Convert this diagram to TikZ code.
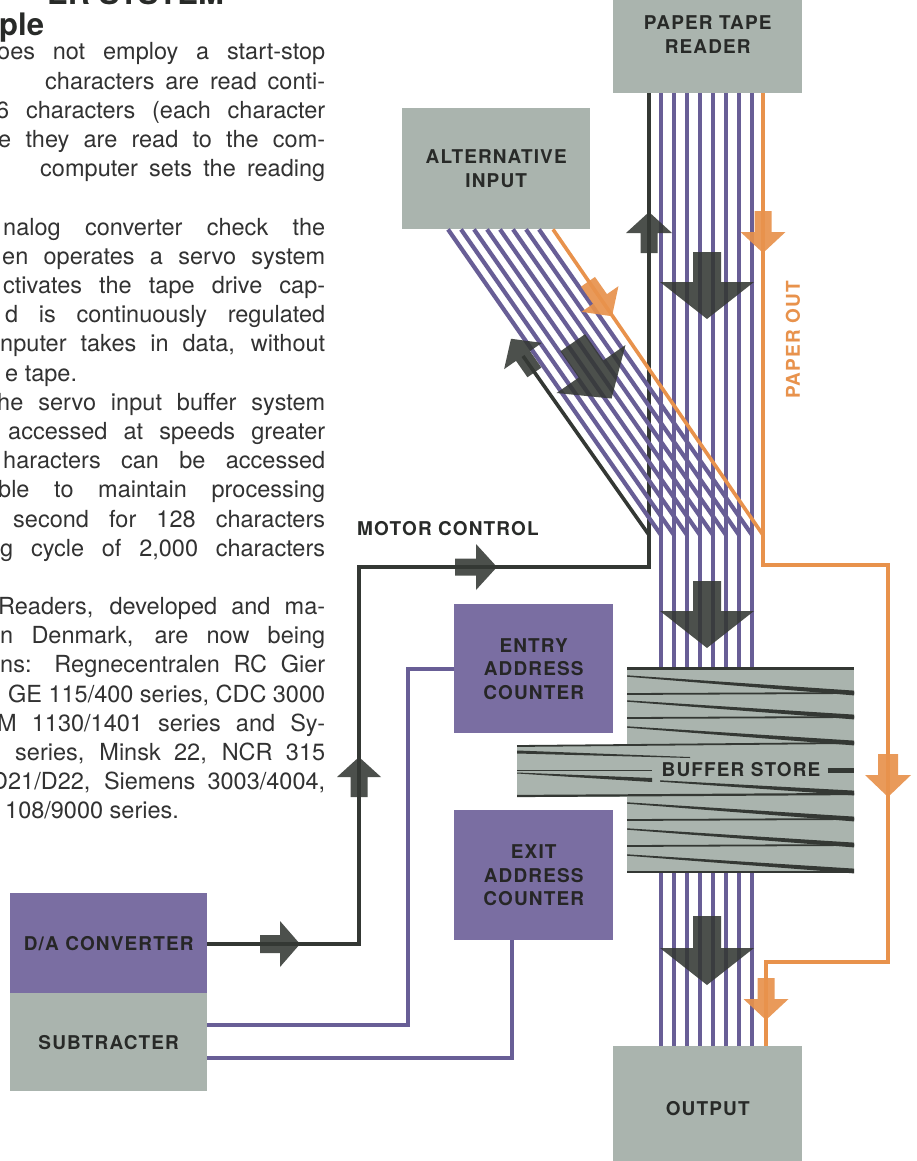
\documentclass[tikz,border=0pt]{standalone}
\usepackage{fontspec}
\setmainfont{TeX Gyre Heros}
\newfontfamily\lblfont[LetterSpace=6]{TeX Gyre Heros}
\usetikzlibrary{calc}
\definecolor{boxgray}{RGB}{170,180,174}
\definecolor{boxpurple}{RGB}{122,110,162}
\definecolor{linepurple}{RGB}{104,94,150}
\definecolor{darkline}{RGB}{52,56,52}
\definecolor{orangeline}{RGB}{232,146,76}
\definecolor{txtdark}{RGB}{40,42,40}
\definecolor{bodycol}{RGB}{50,50,50}
\tikzset{
  lbl/.style={inner sep=0, align=center, font=\lblfont\bfseries\fontsize{19}{23.5}\selectfont, text=txtdark},
  graybox/.style={lbl, fill=boxgray},
  purplebox/.style={lbl, fill=boxpurple, text=black!85},
  titletxt/.style={inner sep=0, font=\bfseries\fontsize{31}{34}\selectfont, text=txtdark},
  bodytxt/.style={inner sep=0, font=\fontsize{23.5}{29}\selectfont, text=bodycol},
  pline/.style={draw=linepurple, line width=4.2pt},
  dline/.style={draw=darkline, line width=3.6pt},
  oline/.style={draw=orangeline, line width=3.6pt},
  darkarrow/.style={fill=darkline, fill opacity=0.88},
  orangearrow/.style={fill=orangeline, fill opacity=0.92}
}
% block arrow: style, base centre, angle, head length, head width, shaft length, shaft width
\newcommand{\barrow}[7]{\begin{scope}[shift={#2},rotate=#3]
  \fill[#1] (-#6,-#7/2) -- (0,-#7/2) -- (0,-#5/2) -- (#4,0) -- (0,#5/2) -- (0,#7/2) -- (-#6,#7/2) -- cycle;
\end{scope}}
% tapering tape line in the buffer store: left x, left y, right y
\newcommand{\tapeline}[3]{\fill[darkline] (#1,#2-0.7) -- (854,#3-2.4) -- (854,#3+2.4) -- (#1,#2+0.7) -- cycle;}
% justified body line: name, left x, baseline, text
\newcommand{\jl}[4]{\node[bodytxt, anchor=base west] (#1) at (#2,#3) {\makebox[\dimexpr325pt-(#2pt)\relax][s]{#4}};}

\begin{document}
\begin{tikzpicture}[x=1pt,y=-1pt]
\useasboundingbox (0,0) rectangle (917,1161);
\clip (0,0) rectangle (917,1161);
\fill[white] (0,0) rectangle (917,1161);

% ---------- text column ----------
\node[titletxt, anchor=base west] (h1) at (47,5) {ER SYSTEM};
\node[titletxt, anchor=base west] (h2) at (-1,36) {ple};
\jl{t0}{-3}{60}{oes not employ a start-stop}
\jl{t1}{45}{89.19}{characters are read conti-}
\jl{t2}{-4}{118.38}{6 characters (each character}
\jl{t3}{-2}{147.57}{e they are read to the com-}
\jl{t4}{40}{176.76}{computer sets the reading}
\jl{t6}{3}{235.14}{nalog converter check the}
\jl{t7}{2}{264.33}{en operates a servo system}
\jl{t8}{3}{293.52}{ctivates the tape drive cap-}
\jl{t9}{5}{322.71}{d is continuously regulated}
\jl{t10}{0}{351.9}{nputer takes in data, without}
\node[bodytxt, anchor=base west] (t11) at (5,381.09) {e tape.};
\jl{t12}{-3}{410.28}{he servo input buffer system}
\jl{t13}{8}{439.47}{accessed at speeds greater}
\jl{t14}{3}{468.66}{haracters can be accessed}
\jl{t15}{-2}{497.85}{ble to maintain processing}
\jl{t16}{13}{527.04}{second for 128 characters}
\jl{t17}{0}{556.23}{g cycle of 2,000 characters}
\jl{t19}{-2}{614.61}{Readers, developed and ma-}
\jl{t20}{0}{643.8}{n Denmark, are now being}
\jl{t21}{0}{672.99}{ns: Regnecentralen RC Gier}
\jl{t22}{8}{702.18}{GE 115/400 series, CDC 3000}
\jl{t23}{-3}{731.37}{M 1130/1401 series and Sy-}
\jl{t24}{15}{760.56}{series, Minsk 22, NCR 315}
\jl{t25}{-9}{789.75}{D21/D22, Siemens 3003/4004,}
\node[bodytxt, anchor=base west] (t26) at (5,818.94) {108/9000 series.};

% ---------- boxes ----------
\node[graybox, minimum width=189pt, minimum height=117pt, anchor=north west] (ptr) at (613,-24) {PAPER TAPE\\READER};
\node[graybox, minimum width=188pt, minimum height=121pt, anchor=north west] (alt) at (402,108) {ALTERNATIVE\\INPUT};
\node[purplebox, minimum width=159pt, minimum height=129pt, anchor=north west] (entry) at (454,604) {ENTRY\\ADDRESS\\COUNTER};
\node[purplebox, minimum width=159pt, minimum height=130pt, anchor=north west] (exit) at (454,810) {EXIT\\ADDRESS\\COUNTER};
\node[purplebox, minimum width=197pt, minimum height=100pt, anchor=north west] (da) at (10,893) {D/A CONVERTER};
\node[graybox, minimum width=197pt, minimum height=98pt, anchor=north west] (sub) at (10,993) {SUBTRACTER};
\node[graybox, minimum width=189pt, minimum height=125pt, anchor=north west] (out) at (613,1046) {OUTPUT};
\node[fill=boxgray, inner sep=0, minimum width=227pt, minimum height=206pt, anchor=north west] (buf) at (627,667) {};
\node[fill=boxgray, inner sep=0, minimum width=114pt, minimum height=52pt, anchor=north west] (bufext) at (517,745) {};

% ---------- coordinates ----------
\foreach \k in {0,...,7}{
  \coordinate (v\k) at ({661+13*\k},0);
  \coordinate (d\k) at ({448+13*\k},0);
}
\coordinate (merge) at (0,535);
\coordinate (dv) at (649,0);
\coordinate (mcR) at (649,567);
\coordinate (mcL) at (359,567);
\coordinate (daC) at (359,944);
\coordinate (ddEnd) at (649,535);
\coordinate (ddHead) at (523,356);
\coordinate (ov) at (763,0);
\coordinate (oC1) at (763,565);
\coordinate (oC2) at (888,565);
\coordinate (oC3) at (888,962);
\coordinate (oC4) at (766,962);
\coordinate (od) at (553,0);
\coordinate (odEnd) at (763,535);
\coordinate (eC1) at (408,0);
\coordinate (eC2) at (408,1025);
\coordinate (xC1) at (512,1058);

% ---------- connectors ----------
\foreach \k in {0,...,7}{
  \draw[pline] (v\k |- ptr.south) -- (v\k |- buf.north);
  \draw[pline] (v\k |- buf.south) -- (v\k |- out.north);
}
\draw[dline] (dv |- ptr.south) -- (mcR) -- (mcL) -- (daC) -- (da.east |- daC);
\foreach \k in {0,...,7}{
  \draw[pline] (d\k |- alt.south) -- (v\k |- merge);
}
\draw[dline] (ddEnd) -- (ddHead);
\draw[oline] (ov |- ptr.south) -- (oC1) -- (oC2) -- (oC3) -- (oC4) -- (oC4 |- out.north);
\draw[oline] (od |- alt.south) -- (odEnd);
\draw[pline] (entry.west) -- (entry.west -| eC1) -- (eC2) -- (sub.east |- eC2);
\draw[pline] (exit.south -| xC1) -- (xC1) -- (sub.east |- xC1);

% ---------- buffer store texture ----------
\draw[darkline, line width=3pt] (627,668.5) -- (854,668.5);
\tapeline{627}{676}{693}
\draw[darkline, line width=1.8pt] (627,694) -- (854,693);
\tapeline{627}{701}{717}
\draw[darkline, line width=1.8pt] (627,718) -- (854,717);
\tapeline{627}{727}{743}
\draw[darkline, line width=1.8pt] (517,746) -- (854,743);
\fill[darkline] (517,750.5) -- (690,757) -- (690,758) -- (517,753.5) -- cycle;
\draw[darkline, line width=1.8pt] (517,770.5) -- (652,770.5);
\fill[darkline] (517,772.5) -- (652,778) -- (652,782) -- (517,773.5) -- cycle;
\tapeline{660}{781}{793}
\draw[darkline, line width=2.2pt] (517,796) -- (854,794);
\tapeline{627}{803}{819}
\draw[darkline, line width=1.8pt] (627,820) -- (854,819);
\tapeline{627}{829}{845}
\draw[darkline, line width=1.8pt] (627,846) -- (854,845);
\tapeline{627}{855}{871}
\draw[darkline, line width=2.6pt] (627,872) -- (854,872);
\node[lbl, fill=boxgray, inner xsep=2pt, inner ysep=1pt] (bs) at (741,770) {BUFFER STORE};
\draw[darkline, line width=5pt] ([xshift=5pt]bs.east) -- (buf.east |- bs.east);

% ---------- block arrows ----------
\barrow{darkarrow}{(649,233)}{90}{21}{46}{20}{17}
\barrow{darkarrow}{(707,282)}{-90}{37}{94}{30}{28}
\barrow{orangearrow}{(763,232)}{-90}{21}{45}{21}{17}
\barrow{orangearrow}{(600,299)}{-55.16}{21}{45}{21}{17}
\barrow{darkarrow}{(591,369)}{-55.16}{36}{84}{32}{30}
\barrow{darkarrow}{(523,356)}{124.84}{21}{46}{20}{17}
\barrow{darkarrow}{(476,567)}{0}{21}{46}{21}{17}
\barrow{darkarrow}{(359,777)}{90}{20}{44}{20}{17}
\barrow{darkarrow}{(280,944)}{0}{20}{46}{20}{18}
\barrow{darkarrow}{(707,611)}{-90}{37}{94}{30}{28}
\barrow{darkarrow}{(707,948)}{-90}{37}{94}{32}{28}
\barrow{orangearrow}{(888,775)}{-90}{22}{46}{21}{20}
\barrow{orangearrow}{(766,999)}{-90}{21}{45}{21}{17}

% ---------- labels ----------
\node[lbl, anchor=base west] (mc) at (357,535) {MOTOR CONTROL};
\node[lbl, text=orangeline, rotate=90] (po) at (793,340) {PAPER OUT};
\end{tikzpicture}
\end{document}
